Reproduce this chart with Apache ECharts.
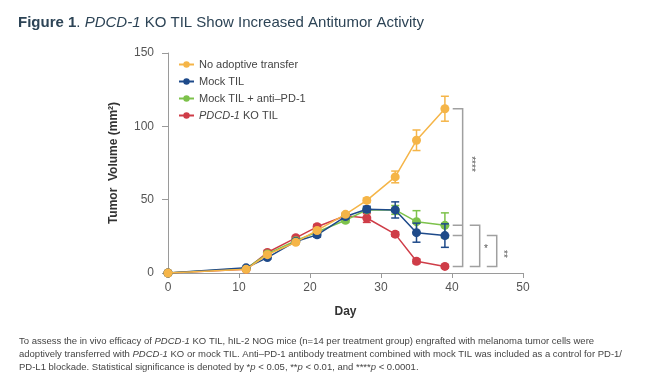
<!DOCTYPE html>
<html>
<head>
<meta charset="utf-8">
<script src="https://cdn.jsdelivr.net/npm/echarts@6/dist/echarts.min.js"></script>
<style>
  html, body { margin: 0; padding: 0; background: #fff; }
  #chart { width: 655px; height: 375px; }
</style>
</head>
<body>
<div id="chart"></div>
<script>
// days of measurement
const days = [0, 11, 14, 18, 21, 25, 28, 32, 35, 39];

// mean tumor volume (mm2) per group, with error bar half-lengths
const noTransfer = [0, 2.5, 12.5, 21, 29, 40, 49.5, 65.5, 90.5, 112];
const noTransferErr = [0, 0.5, 1, 1, 1, 1, 1.5, 4, 7, 8.5];
const mockTil = [0, 3.5, 10.5, 21.5, 26, 38.5, 43.5, 43, 27.5, 25.5];
const mockTilErr = [0, 0.5, 1, 1, 1.5, 1.5, 2, 5.5, 6.5, 8];
const antiPd1 = [0, 3, 13, 22, 28, 36, 43, 43, 35, 32.5];
const antiPd1Err = [0, 0.5, 1, 1, 1, 1.5, 1.5, 3, 7.5, 8.5];
const koTil = [0, 2.5, 14, 24, 31.5, 39, 37.5, 26.5, 8, 4.5];
const koTilErr = [0, 0.5, 1, 1, 1.5, 1, 3, 1.5, 1.5, 1];

const groupNames = ['No adoptive transfer', 'Mock TIL', 'Mock TIL + anti\u2013PD-1', 'PDCD-1 KO TIL'];
const yTicks = [0, 50, 100, 150];
const xTicks = [0, 10, 20, 30, 40, 50];

const chart = echarts.init(document.getElementById('chart'));

const last = arr => arr[arr.length - 1];

// line + markers
function lineSeries (name, color, values, z) {
  return {
    name: name,
    type: 'line',
    data: days.map((d, i) => [d, values[i]]),
    symbol: 'circle',
    symbolSize: 9,
    z: z,
    lineStyle: { color: color, width: 1.5 },
    itemStyle: { color: color },
    emphasis: { disabled: true }
  };
}

// error bars with caps
function errorSeries (name, color, values, errs, z) {
  return {
    name: name,
    type: 'custom',
    z: z,
    silent: true,
    encode: { x: 0, y: [1, 2] },
    data: days.map((d, i) => [d, values[i] - errs[i], values[i] + errs[i]]),
    renderItem: function (params, api) {
      const lo = api.coord([api.value(0), api.value(1)]);
      const hi = api.coord([api.value(0), api.value(2)]);
      const w = 4;
      const style = { stroke: color, lineWidth: 1.5 };
      return {
        type: 'group',
        children: [
          { type: 'line', shape: { x1: lo[0], y1: lo[1], x2: hi[0], y2: hi[1] }, style: style },
          { type: 'line', shape: { x1: lo[0] - w, y1: lo[1], x2: lo[0] + w, y2: lo[1] }, style: style },
          { type: 'line', shape: { x1: hi[0] - w, y1: hi[1], x2: hi[0] + w, y2: hi[1] }, style: style }
        ]
      };
    }
  };
}

// significance brackets: [xLeft, xRight, yTop, yBottom]
const brackets = [
  [40.1, 41.5, last(noTransfer), last(koTil)],
  [40.1, 41.5, last(antiPd1), last(antiPd1)],
  [40.1, 41.5, last(mockTil), last(mockTil)],
  [42.5, 43.9, last(antiPd1), last(koTil)],
  [44.9, 46.3, last(mockTil), last(koTil)]
];

const option = {
  animation: false,
  title: [
    {
      left: 13,
      top: 10,
      text: '{b|Figure 1}. {i|PDCD-1} KO TIL Show Increased Antitumor Activity',
      textStyle: {
        fontFamily: 'Liberation Sans',
        fontSize: 15,
        fontWeight: 'normal',
        color: '#2d4456',
        rich: {
          b: { fontFamily: 'Liberation Sans', fontSize: 15, fontWeight: 'bold', color: '#2d4456' },
          i: { fontFamily: 'Liberation Sans', fontSize: 15, fontStyle: 'italic', color: '#2d4456' }
        }
      }
    },
    {
      left: 14,
      top: 330,
      text: 'To assess the in vivo efficacy of {i|PDCD-1} KO TIL, hIL-2 NOG mice (n=14 per treatment group) engrafted with melanoma tumor cells were\n' +
        'adoptively transferred with {i|PDCD-1} KO or mock TIL. Anti\u2013PD-1 antibody treatment combined with mock TIL was included as a control for PD-1/\n' +
        'PD-L1 blockade. Statistical significance is denoted by *{i|p} < 0.05, **{i|p} < 0.01, and ****{i|p} < 0.0001.',
      textStyle: {
        fontFamily: 'Liberation Sans',
        fontSize: 9.5,
        fontWeight: 'normal',
        lineHeight: 13,
        color: '#444',
        rich: {
          i: { fontFamily: 'Liberation Sans', fontSize: 9.5, fontStyle: 'italic', lineHeight: 13, color: '#444' }
        }
      }
    }
  ],
  legend: {
    data: groupNames,
    orient: 'vertical',
    left: 173,
    top: 54,
    itemWidth: 15,
    itemHeight: 8,
    itemGap: 6,
    selectedMode: false,
    formatter: function (name) {
      return name === 'PDCD-1 KO TIL' ? '{i|PDCD-1} KO TIL' : name;
    },
    textStyle: {
      fontFamily: 'Liberation Sans',
      fontSize: 11,
      color: '#444',
      rich: {
        i: { fontFamily: 'Liberation Sans', fontSize: 11, fontStyle: 'italic', color: '#444' }
      }
    }
  },
  grid: { left: 168, right: 132, top: 53, bottom: 102 },
  xAxis: {
    type: 'value',
    min: xTicks[0],
    max: last(xTicks),
    interval: 10,
    name: 'Day',
    nameLocation: 'middle',
    nameGap: 33,
    nameTextStyle: { fontFamily: 'Liberation Sans', fontSize: 12, fontWeight: 'bold', color: '#333' },
    splitLine: { show: false },
    axisLine: { lineStyle: { color: '#9a9a9a', width: 1 } },
    axisTick: { length: 5, lineStyle: { color: '#9a9a9a' } },
    axisLabel: { fontFamily: 'Liberation Sans', fontSize: 12, color: '#555', margin: 9 }
  },
  yAxis: {
    type: 'value',
    min: yTicks[0],
    max: last(yTicks),
    interval: 50,
    name: 'Tumor  Volume (mm\u00b2)',
    nameLocation: 'middle',
    nameGap: 48,
    nameTextStyle: { fontFamily: 'Liberation Sans', fontSize: 12, fontWeight: 'bold', color: '#333' },
    splitLine: { show: false },
    axisLine: { show: true, lineStyle: { color: '#9a9a9a', width: 1 } },
    axisTick: { show: true, length: 6, lineStyle: { color: '#9a9a9a' } },
    axisLabel: { fontFamily: 'Liberation Sans', fontSize: 12, color: '#555', margin: 14 }
  },
  graphic: [
    { type: 'text', x: 471, y: 164, rotation: -Math.PI / 2, style: { text: '****', font: '10px Liberation Sans', fill: '#555', align: 'center', verticalAlign: 'middle' } },
    { type: 'text', x: 486, y: 249, style: { text: '*', font: '10px Liberation Sans', fill: '#555', align: 'center', verticalAlign: 'middle' } },
    { type: 'text', x: 503, y: 254, rotation: -Math.PI / 2, style: { text: '**', font: '10px Liberation Sans', fill: '#555', align: 'center', verticalAlign: 'middle' } }
  ],
  series: [
    lineSeries(groupNames[3], '#cf3d48', koTil, 2),
    lineSeries(groupNames[2], '#7dc24b', antiPd1, 3),
    lineSeries(groupNames[1], '#1e4a8a', mockTil, 4),
    lineSeries(groupNames[0], '#f5b548', noTransfer, 5),
    errorSeries(groupNames[3], '#cf3d48', koTil, koTilErr, 2),
    errorSeries(groupNames[2], '#7dc24b', antiPd1, antiPd1Err, 3),
    errorSeries(groupNames[1], '#1e4a8a', mockTil, mockTilErr, 4),
    errorSeries(groupNames[0], '#f5b548', noTransfer, noTransferErr, 5),
    {
      type: 'custom',
      silent: true,
      z: 1,
      encode: { x: [0, 1], y: [2, 3] },
      data: brackets,
      renderItem: function (params, api) {
        const tl = api.coord([api.value(0), api.value(2)]);
        const tr = api.coord([api.value(1), api.value(2)]);
        const br = api.coord([api.value(1), api.value(3)]);
        const bl = api.coord([api.value(0), api.value(3)]);
        return {
          type: 'polyline',
          shape: { points: [tl, tr, br, bl] },
          style: { stroke: '#a0a0a0', lineWidth: 1.5, fill: null }
        };
      }
    }
  ]
};

chart.setOption(option);
</script>
</body>
</html>
